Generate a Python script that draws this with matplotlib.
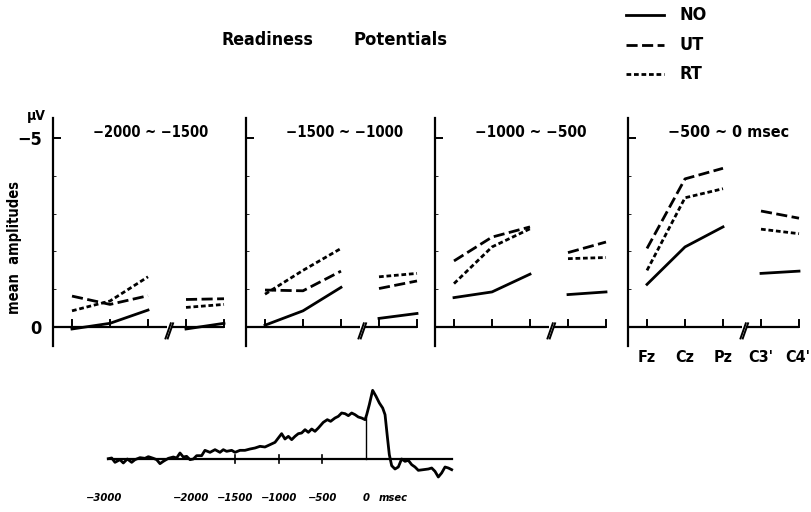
import numpy as np
import matplotlib
matplotlib.use("Agg")
import matplotlib.pyplot as plt
from matplotlib import font_manager

# ---------------- data ----------------
electrodes = ["Fz", "Cz", "Pz", "C3'", "C4'"]
periods = ["\u22122000 ~ \u22121500", "\u22121500 ~ \u22121000",
           "\u22121000 ~ \u2212500", "\u2212500 ~ 0 msec"]
series_names = ["NO", "UT", "RT"]

# mean amplitudes (µV, negative = up) per period, electrodes Fz Cz Pz C3' C4'
NO = [[0.05, -0.10, -0.45, 0.05, -0.10],
      [-0.05, -0.43, -1.05, -0.23, -0.36],
      [-0.78, -0.93, -1.40, -0.86, -0.93],
      [-1.13, -2.12, -2.65, -1.42, -1.48]]
UT = [[-0.82, -0.60, -0.83, -0.73, -0.75],
      [-0.98, -0.96, -1.48, -1.02, -1.22],
      [-1.75, -2.38, -2.65, -1.97, -2.25],
      [-2.08, -3.92, -4.20, -3.07, -2.88]]
RT = [[-0.43, -0.69, -1.33, -0.52, -0.60],
      [-0.87, -1.50, -2.08, -1.33, -1.42],
      [-1.15, -2.12, -2.60, -1.81, -1.84],
      [-1.50, -3.42, -3.66, -2.59, -2.47]]

# readiness-potential trace (time in ms, relative amplitude, up = negative)
rp_time = [-2950, -2912, -2874, -2817, -2779, -2733, -2683, -2645, -2588, -2531,
           -2492, -2435, -2397, -2359, -2321, -2263, -2206, -2168, -2130, -2092,
           -2054, -2015, -1977, -1939, -1882, -1844, -1786, -1729, -1672, -1634,
           -1596, -1538, -1500, -1443, -1386, -1328, -1271, -1214, -1157, -1099,
           -1042, -1004, -966, -928, -889, -851, -813, -775, -737, -698,
           -660, -622, -584, -546, -489, -443, -405, -355, -317, -279,
           -240, -202, -164, -126, -88, -50, -11, 8, 38, 76,
           115, 153, 191, 218, 244, 267, 294, 332, 370, 408,
           447, 485, 523, 561, 599, 657, 714, 752, 790, 828,
           866, 905, 943, 981]
rp_amp = [1, 3, -10, -2, -12, 0, -10, -2, 4, 2,
          7, 2, -2, -14, -7, 2, 6, 3, 18, 6,
          8, -2, 0, 10, 10, 26, 20, 28, 20, 28,
          23, 26, 20, 26, 26, 30, 33, 38, 36, 43,
          50, 63, 76, 60, 68, 58, 68, 76, 78, 88,
          80, 90, 83, 93, 110, 118, 113, 123, 128, 138,
          136, 130, 138, 133, 126, 123, 118, 133, 163, 206,
          188, 168, 153, 133, 68, 13, -20, -30, -24, 0,
          -7, -4, -17, -24, -34, -32, -30, -27, -37, -54,
          -42, -24, -27, -32]
rp_ticks = [-1500, -1000, -500]
rp_labels = [(-3000, "\u22123000"), (-2000, "\u22122000"), (-1500, "\u22121500"),
             (-1000, "\u22121000"), (-500, "\u2212500"), (0, "0")]

# ---------------- style ----------------
ttf = font_manager.fontManager.ttflist
cond = [f for f in ttf if ("Narrow" in f.name or "Condensed" in f.name
                           or f.stretch in ("condensed", "semi-condensed",
                                            "extra-condensed", "ultra-condensed"))]
names = {f.name for f in ttf}
if cond:
    FAM = [cond[0].name, "DejaVu Sans"]
    STRETCH = cond[0].stretch
else:
    FAM = ["Roboto", "DejaVu Sans"] if "Roboto" in names else ["DejaVu Sans"]
    STRETCH = "normal"
plt.rcParams["font.family"] = FAM
plt.rcParams["font.stretch"] = STRETCH
plt.rcParams["font.weight"] = "bold"
plt.rcParams["lines.scale_dashes"] = False

W, H = 812, 512
fig = plt.figure(figsize=(W / 100, H / 100), dpi=100)
renderer = fig.canvas.get_renderer()


def fit(t, target_px, max_size, min_size, vertical=False):
    """size a text so that its width (or height) is about target_px, within limits"""
    t.set_fontsize(max_size)
    for _ in range(3):
        bb = t.get_window_extent(renderer=renderer)
        cur = bb.height if vertical else bb.width
        if cur <= 0:
            break
        size = min(max_size, max(min_size, t.get_fontsize() * target_px / cur))
        t.set_fontsize(size)
    return t


styles = {"NO": dict(ls="-"), "UT": dict(dashes=(8, 3.2)), "RT": dict(dashes=(3.4, 2.0))}
LW = 2.0


def fx(px):
    return px / W


def fy(py):
    return 1 - py / H


# panel geometry (pixels)
lefts = [53, 246, 435, 628]
title_w = [113, 116, 112, 125]
pw = 190
top_px, bot_px = 118, 346
x = np.arange(1, len(electrodes) + 1)

for i in range(4):
    ax = fig.add_axes([fx(lefts[i]), fy(bot_px), fx(pw), (bot_px - top_px) / H])
    ax.set_xlim(0.5, 5.5)
    ax.set_ylim(0.5, -5.53)
    for s in ["top", "right", "bottom"]:
        ax.spines[s].set_visible(False)
    ax.spines["left"].set_linewidth(1.6)
    ax.set_xticks([])
    ax.set_yticks([-5, 0])
    ax.tick_params(axis="y", direction="in", length=6, width=1.4, pad=8, labelsize=13)
    ax.set_yticks(np.arange(-5, 1), minor=True)
    ax.tick_params(axis="y", which="minor", direction="in", length=2, width=0.6)
    if i == 0:
        ax.set_yticklabels(["\u22125", "0"])
    else:
        ax.set_yticklabels([])
    ax.patch.set_alpha(0)

    # zero line with axis break
    ax.plot([0.5, 3.5], [0, 0], color="k", lw=1.6, solid_capstyle="butt")
    ax.plot([3.64, 5.0], [0, 0], color="k", lw=1.6, solid_capstyle="butt")
    ax.plot([3.46, 3.60], [0.3, -0.1], color="k", lw=1.4)
    ax.plot([3.52, 3.66], [0.3, -0.1], color="k", lw=1.4)
    for xi in x:
        ax.plot([xi, xi], [0, -0.2], color="k", lw=1.4)

    for name, data in zip(series_names, [NO, UT, RT]):
        vals = np.array(data[i])
        ax.plot(x[:3], vals[:3], color="k", lw=LW, **styles[name])
        ax.plot(x[3:], vals[3:], color="k", lw=LW, **styles[name])

    tt = ax.text(0.21, 0.935, periods[i], transform=ax.transAxes, ha="left",
                 va="center", fontweight="bold")
    fit(tt, title_w[i], 11.5, 10.5)

    if i == 3:
        for xi, lab in zip(x, electrodes):
            et = ax.text(xi, 0.8, lab, ha="center", va="center", fontsize=11.5,
                         fontweight="bold", clip_on=False)
            bb = et.get_window_extent(renderer=renderer)
            if bb.x1 > W - 2:
                dx = (bb.x1 - (W - 2)) / 38.0
                et.set_x(xi - dx)

# labels around first panel
fig.text(fx(36), fy(116), "\u03bcV", ha="center", va="center", fontsize=10,
         fontweight="bold")
fit(fig.text(fx(15), fy(247), "mean  amplitudes", rotation=90, ha="center",
             va="center", fontweight="bold"), 122, 11.5, 10.5, vertical=True)

# title and legend
fit(fig.text(fx(222), fy(40), "Readiness", ha="left", va="center",
             fontweight="bold"), 92, 14, 12.5)
fit(fig.text(fx(354), fy(40), "Potentials", ha="left", va="center",
             fontweight="bold"), 94, 14, 12.5)

lax = fig.add_axes([0, 0, 1, 1])
lax.set_xlim(0, W)
lax.set_ylim(H, 0)
lax.axis("off")
lax.patch.set_alpha(0)
for name, yy in zip(series_names, [15, 45, 74]):
    lax.plot([626, 664], [yy, yy], color="k", lw=LW, **styles[name])
    lax.text(680, yy, name, ha="left", va="center", fontsize=13, fontweight="bold")

# waveform panel
wax = fig.add_axes([fx(90), fy(510), fx(380), (510 - 380) / H])
px_per_ms = 262 / 3000
wax.set_xlim(-3000 - 14 / px_per_ms, (470 - 366) / px_per_ms)
wax.set_ylim((459 - 510) * 3, (459 - 380) * 3)
wax.axis("off")
t = np.array(rp_time)
a = np.array(rp_amp)
wax.plot([t.min(), t.max()], [0, 0], color="k", lw=1.6)
wax.plot(t, a, color="k", lw=2.0)
for tk in rp_ticks:
    wax.plot([tk, tk], [-12, 12], color="k", lw=1.2)
wax.plot([0, 0], [0, np.interp(0, t, a)], color="k", lw=1.0)
for tv, lab in rp_labels:
    wax.text(tv, -117, lab, ha="center", va="center", fontsize=8, fontweight="bold",
             style="italic")
wax.text(150, -117, "msec", ha="left", va="center", fontsize=8, fontweight="bold",
         style="italic")

fig.savefig("out.png", dpi=100)
